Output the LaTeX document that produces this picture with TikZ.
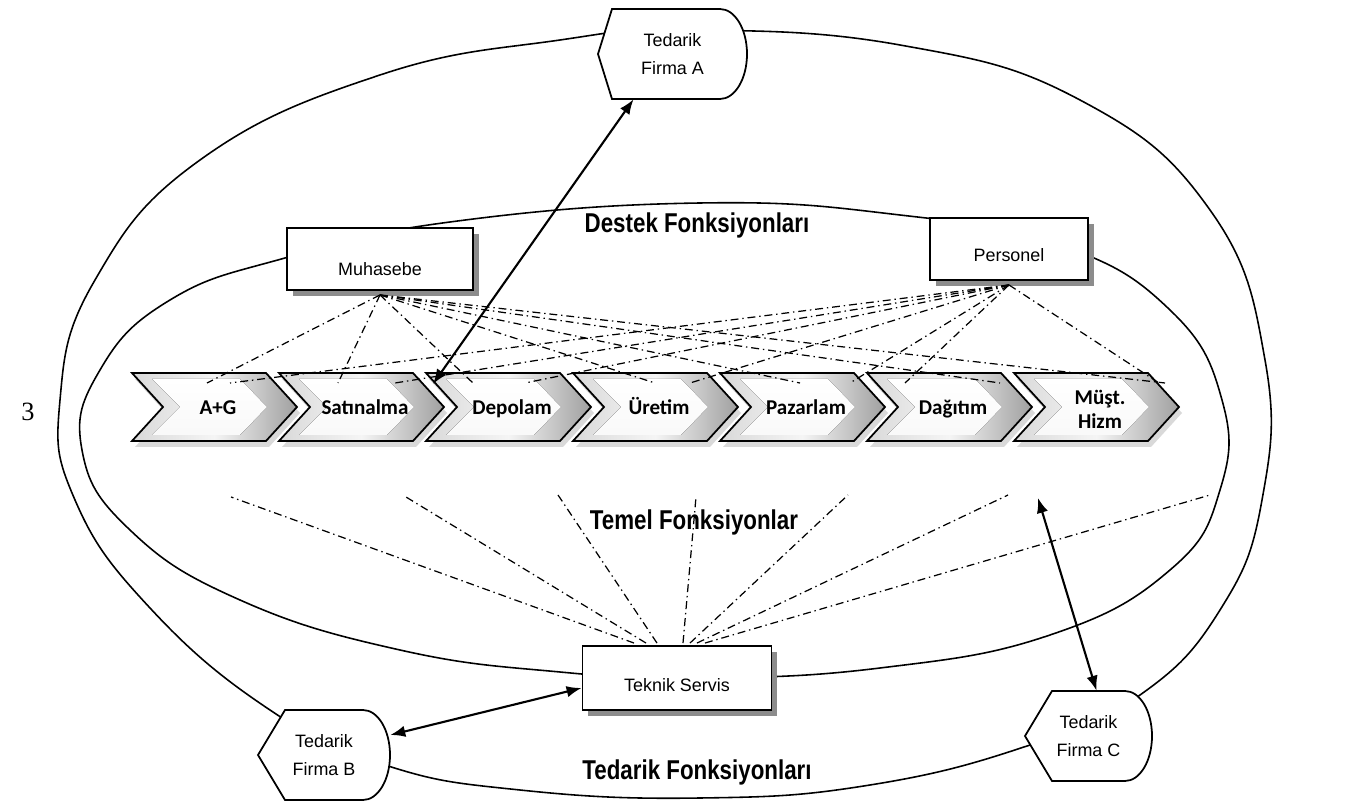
\documentclass[tikz,border=0pt]{standalone}
\usepackage{fontspec}
\setmainfont{Liberation Sans}
\newfontfamily\headfont[FakeStretch=0.82]{Liberation Sans}
\newfontfamily\chevfont{Carlito}
\newfontfamily\pagefont{Liberation Serif}
\usetikzlibrary{calc}
\usetikzlibrary{arrows.meta}

\tikzset{
  ring/.style={line width=0.9pt},
  unitbox/.style={draw,line width=1.1pt,fill=white,inner sep=0pt,
    preaction={draw=none,fill=black!45,
      transform canvas={shift={(3.2pt,-3.2pt)}}},
    text depth=0pt,font=\fontsize{10.2}{12}\selectfont},
  firmaline/.style={draw,line width=1pt,fill=white},
  firmatext/.style={align=center,inner sep=0pt,
    font=\fontsize{10.2}{15.5}\selectfont},
  chevshadow/.style={fill=black!15},
  chevframe/.style={draw,line width=1pt,left color=gray!30,
    right color=gray!75,middle color=gray!8},
  chevface/.style={top color=white,bottom color=gray!5},
  chevlabel/.style={align=center,inner sep=0pt,
    font=\chevfont\bfseries\fontsize{12}{13.5}\selectfont},
  heading/.style={font=\headfont\bfseries\fontsize{15.5}{17}\selectfont},
  dotlink/.style={line width=0.7pt,
    dash pattern=on 4.5pt off 2.2pt on 0.8pt off 2.2pt},
  biarrow/.style={line width=1.2pt,
    {Latex[length=8.5pt,width=6.5pt]}-{Latex[length=8.5pt,width=6.5pt]}}
}

% supplier shape: #1 name, #2 centre, #3 width, #4 notch, #5 text
\newcommand{\firma}[5]{%
  \path[firmaline] ($(#2)+(-#3/2,0)$) -- ++(#4,-45)
    -- ($(#2)+(#3/2-27,-45)$)
    arc[start angle=-90,end angle=90,x radius=27,y radius=45]
    -- ($(#2)+(-#3/2+#4,45)$) -- cycle;
  \node[firmatext,minimum width=#3*0.02cm,minimum height=1.8cm]
    (#1) at (#2) {#5};}

% process arrow: #1 name, #2 left x, #3 label
\newcommand{\chevron}[3]{%
  \fill[chevshadow] (#2+3,379) -- ++(134,0) -- ++(31,34) -- ++(-31,34)
    -- ++(-134,0) -- ++(31,-34) -- cycle;
  \path[chevframe] (#2,373) -- ++(134,0) -- ++(31,34) -- ++(-31,34)
    -- ++(-134,0) -- ++(31,-34) -- cycle;
  \fill[chevface] (#2+20,379) -- ++(88,0) -- ++(27,28) -- ++(-27,28)
    -- ++(-88,0) -- ++(28,-28) -- cycle;
  \coordinate (#1 top) at (#2+83,383);
  \node[chevlabel] (#1) at (#2+86,408) {\vphantom{Üg}#3};}

\begin{document}
\begin{tikzpicture}[x=0.02cm,y=-0.02cm]
  \useasboundingbox (0,0) rectangle (1346,803);

  % Tedarik ring
  \draw[ring] plot[smooth cycle,tension=0.75] coordinates {
    (690,30) (900,45) (1080,100) (1210,210) (1265,360) (1262,500)
    (1220,610) (1140,695) (1030,745) (870,785) (700,798) (520,790)
    (385,765) (270,710) (150,608) (75,500) (60,400) (95,280)
    (200,160) (380,75) (560,40)};
  % Destek / Temel ring
  \draw[ring] plot[smooth cycle,tension=0.75] coordinates {
    (700,203) (900,215) (1060,245) (1170,310) (1222,400) (1220,490)
    (1170,570) (1050,635) (880,668) (700,678) (560,672) (400,650)
    (240,600) (130,530) (82,450) (100,370) (170,300) (285,258)
    (450,222)};

  \node[font=\pagefont\fontsize{15}{18}\selectfont] (pg) at (28,412) {3};

  \firma{fa}{672.5,54}{149}{14}{Tedarik\\Firma A}
  \firma{fb}{324,755}{132}{27}{Tedarik\\Firma B}
  \firma{fc}{1088.5,736}{127}{27}{Tedarik\\Firma C}

  \chevron{ag}{132}{A+G}
  \chevron{sat}{279}{Satınalma}
  \chevron{dep}{426}{Depolam}
  \chevron{ure}{573}{Üretim}
  \chevron{paz}{720}{Pazarlam}
  \chevron{dag}{867}{Dağıtım}
  \chevron{mus}{1014}{Müşt.\\Hizm}

  \node[unitbox,minimum width=3.72cm,minimum height=1.24cm,
    text height=19pt] (muh) at (380,259) {Muhasebe};
  \node[unitbox,minimum width=3.16cm,minimum height=1.24cm,
    text height=14.8pt] (per) at (1009,249) {Personel};
  \node[unitbox,minimum width=3.78cm,minimum height=1.28cm,
    text height=14.8pt] (ts) at (677,678) {Teknik Servis};

  \node[heading] (destek) at (697,225) {Destek Fonksiyonları};
  \node[heading] (temel) at (694,522) {Temel Fonksiyonlar};
  \node[heading] (tedarik) at (697,772) {Tedarik Fonksiyonları};

  % Muhasebe links
  \draw[dotlink] ($(muh.south)+(0,4)$) -- ($(ag top)+(-8,0)$);
  \draw[dotlink] ($(muh.south)+(0,4)$) -- ($(sat top)+(-24,0)$);
  \draw[dotlink] ($(muh.south)+(0,4)$) -- ($(dep top)+(-36,0)$);
  \draw[dotlink] ($(muh.south)+(0,4)$) -- ($(ure top)+(-1,0)$);
  \draw[dotlink] ($(muh.south)+(0,4)$) -- ($(paz top)+(-3,0)$);
  \draw[dotlink] ($(muh.south)+(0,4)$) -- ($(dag top)+(50,0)$);
  \draw[dotlink] ($(muh.south)+(0,4)$) -- ($(mus top)+(68,0)$);

  % Personel links
  \draw[dotlink] ($(per.south)+(0,4)$) -- ($(ag top)+(15,0)$);
  \draw[dotlink] ($(per.south)+(0,4)$) -- ($(sat top)+(33,0)$);
  \draw[dotlink] ($(per.south)+(0,4)$) -- ($(dep top)+(16,0)$);
  \draw[dotlink] ($(per.south)+(0,4)$) -- ($(ure top)+(34,0)$);
  \draw[dotlink] ($(per.south)+(0,4)$) -- ($(paz top)+(47,0)$);
  \draw[dotlink] ($(per.south)+(0,4)$) -- ($(dag top)+(-45,0)$);
  \draw[dotlink] ($(per.south)+(0,4)$) -- ($(mus top)+(62,0)$);

  % Teknik Servis links
  \coordinate (fan1) at (231,497);
  \coordinate (fan2) at (406,497);
  \coordinate (fan3) at (558,495);
  \coordinate (fan4) at (696,497);
  \coordinate (fan5) at (848,495);
  \coordinate (fan6) at (1008,495);
  \coordinate (fan7) at (1210,495);
  \draw[dotlink] ($(ts.north)+(-43,-2)$) -- (fan1);
  \draw[dotlink] ($(ts.north)+(-31,-2)$) -- (fan2);
  \draw[dotlink] ($(ts.north)+(-20,-2)$) -- (fan3);
  \draw[dotlink] ($(ts.north)+(6,-2)$) -- (fan4);
  \draw[dotlink] ($(ts.north)+(13,-2)$) -- (fan5);
  \draw[dotlink] ($(ts.north)+(20,-2)$) -- (fan6);
  \draw[dotlink] ($(ts.north)+(28,-2)$) -- (fan7);

  % supplier arrows
  \draw[biarrow] ($(fa.south)+(-39,0)$) -- ($(sat)+(68,-24)$);
  \draw[biarrow] ($(fb.east)+(0,-20)$) -- ($(ts.west)+(0,10)$);
  \coordinate (fcend) at (1038,498);
  \draw[biarrow] ($(fc.north)+(8,0)$) -- (fcend);
\end{tikzpicture}
\end{document}
